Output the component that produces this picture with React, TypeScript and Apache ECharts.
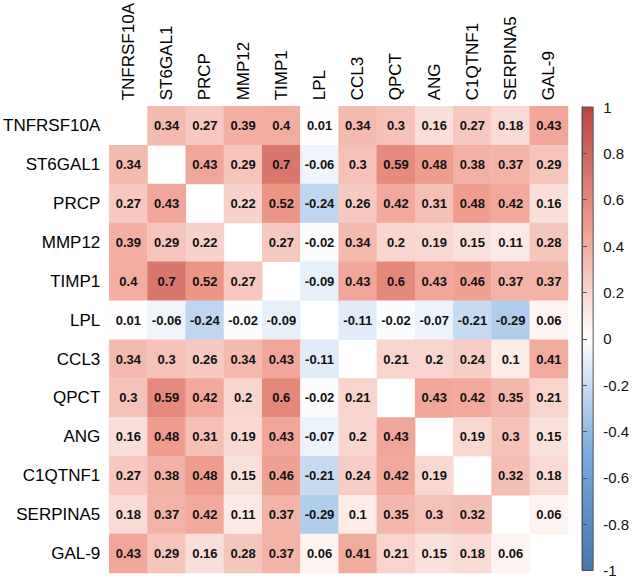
import React, { useEffect, useRef } from "react";
import * as echarts from "echarts";

const genes = ["TNFRSF10A", "ST6GAL1", "PRCP", "MMP12", "TIMP1", "LPL", "CCL3", "QPCT", "ANG", "C1QTNF1", "SERPINA5", "GAL-9"];

const rowTNFRSF10A = [null, 0.34, 0.27, 0.39, 0.4, 0.01, 0.34, 0.3, 0.16, 0.27, 0.18, 0.43];
const rowST6GAL1 = [0.34, null, 0.43, 0.29, 0.7, -0.06, 0.3, 0.59, 0.48, 0.38, 0.37, 0.29];
const rowPRCP = [0.27, 0.43, null, 0.22, 0.52, -0.24, 0.26, 0.42, 0.31, 0.48, 0.42, 0.16];
const rowMMP12 = [0.39, 0.29, 0.22, null, 0.27, -0.02, 0.34, 0.2, 0.19, 0.15, 0.11, 0.28];
const rowTIMP1 = [0.4, 0.7, 0.52, 0.27, null, -0.09, 0.43, 0.6, 0.43, 0.46, 0.37, 0.37];
const rowLPL = [0.01, -0.06, -0.24, -0.02, -0.09, null, -0.11, -0.02, -0.07, -0.21, -0.29, 0.06];
const rowCCL3 = [0.34, 0.3, 0.26, 0.34, 0.43, -0.11, null, 0.21, 0.2, 0.24, 0.1, 0.41];
const rowQPCT = [0.3, 0.59, 0.42, 0.2, 0.6, -0.02, 0.21, null, 0.43, 0.42, 0.35, 0.21];
const rowANG = [0.16, 0.48, 0.31, 0.19, 0.43, -0.07, 0.2, 0.43, null, 0.19, 0.3, 0.15];
const rowC1QTNF1 = [0.27, 0.38, 0.48, 0.15, 0.46, -0.21, 0.24, 0.42, 0.19, null, 0.32, 0.18];
const rowSERPINA5 = [0.18, 0.37, 0.42, 0.11, 0.37, -0.29, 0.1, 0.35, 0.3, 0.32, null, 0.06];
const rowGAL9 = [0.43, 0.29, 0.16, 0.28, 0.37, 0.06, 0.41, 0.21, 0.15, 0.18, 0.06, null];

const rows = [rowTNFRSF10A, rowST6GAL1, rowPRCP, rowMMP12, rowTIMP1, rowLPL, rowCCL3, rowQPCT, rowANG, rowC1QTNF1, rowSERPINA5, rowGAL9];

const colorbarTicks = [-1, -0.8, -0.6, -0.4, -0.2, 0, 0.2, 0.4, 0.6, 0.8, 1];

const scaleColors = ["#4477AA", "#77AADD", "#FFFFFF", "#EE9988", "#BB4444"];

const FONT = "Liberation Sans, Arial, sans-serif";

export default function App() {
  const ref = useRef<HTMLDivElement>(null);
  useEffect(() => {
    if (!ref.current) return;
    const chart = echarts.init(ref.current, null, { renderer: "svg" });
    const data: any[] = [];
    rows.forEach((r, yi) => {
      r.forEach((v, xi) => {
        if (v !== null) data.push([xi, yi, v]);
      });
    });
    const n = scaleColors.length - 1;
    const gradient = new echarts.graphic.LinearGradient(
      0, 1, 0, 0,
      scaleColors.map((c, i) => ({ offset: i / n, color: c }))
    );
    chart.setOption({
      animation: false,
      backgroundColor: "#fff",
      grid: [
        { left: 108, top: 106, width: 460, height: 467 },
        { left: 582, top: 107, width: 17, height: 467, show: true, borderColor: "#555", borderWidth: 1, backgroundColor: gradient },
      ],
      xAxis: [
        {
          type: "category",
          gridIndex: 0,
          position: "top",
          data: genes,
          axisLine: { show: false },
          axisTick: { show: false },
          splitLine: { show: false },
          axisLabel: { rotate: -90, margin: 6, fontSize: 17, color: "#000", fontFamily: FONT, interval: 0 },
        },
        { type: "value", gridIndex: 1, show: false, min: 0, max: 1 },
      ],
      yAxis: [
        {
          type: "category",
          gridIndex: 0,
          inverse: true,
          data: genes,
          axisLine: { show: false },
          axisTick: { show: false },
          splitLine: { show: false },
          axisLabel: { margin: 9, fontSize: 17, color: "#000", fontFamily: FONT, interval: 0 },
        },
        {
          type: "value",
          gridIndex: 1,
          position: "right",
          min: -1,
          max: 1,
          interval: 0.2,
          axisLine: { show: true, lineStyle: { color: "#555", width: 1 } },
          axisTick: { show: true, length: 5, lineStyle: { color: "#555" } },
          splitLine: { show: false },
          axisLabel: {
            margin: 10,
            fontSize: 15,
            color: "#111",
            fontFamily: FONT,
            showMinLabel: true,
            showMaxLabel: true,
            formatter: (v: number) => String(parseFloat(Number(v).toFixed(1))),
          },
        },
      ],
      visualMap: {
        type: "continuous",
        show: false,
        min: -1,
        max: 1,
        seriesIndex: 0,
        inRange: { color: scaleColors },
      },
      series: [
        {
          type: "heatmap",
          xAxisIndex: 0,
          yAxisIndex: 0,
          data,
          label: {
            show: true,
            fontSize: 13,
            fontWeight: "bold",
            color: "#111",
            fontFamily: FONT,
            formatter: (p: any) => String(p.value[2]),
          },
          itemStyle: { borderWidth: 0 },
        },
        { type: "scatter", xAxisIndex: 1, yAxisIndex: 1, data: [] },
      ],
    });
    return () => chart.dispose();
  }, []);
  return <div ref={ref} style={{ position: "fixed", left: 0, top: 0, width: 632, height: 578 }} />;
}
